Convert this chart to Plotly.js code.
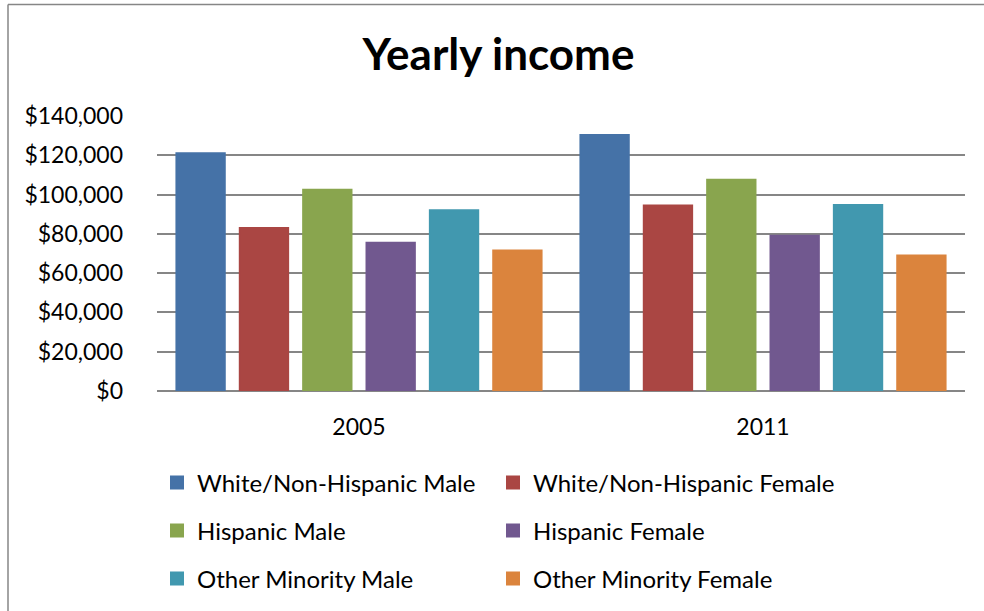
<!DOCTYPE html>
<html>
<head>
<meta charset="utf-8">
<script src="https://cdn.plot.ly/plotly-3.0.1.min.js"></script>
<style>
  html, body { margin: 0; padding: 0; background: #ffffff; }
  #chart { width: 984px; height: 611px; }
</style>
</head>
<body>
<div id="chart"></div>
<script>
// ---- data ----
const years = ['2005', '2011'];
const seriesNames = [
  'White/Non-Hispanic Male',
  'White/Non-Hispanic Female',
  'Hispanic Male',
  'Hispanic Female',
  'Other Minority Male',
  'Other Minority Female'
];
const whiteMale      = [121000, 130300];
const whiteFemale    = [83000, 94500];
const hispanicMale   = [102500, 107500];
const hispanicFemale = [75500, 79000];
const otherMale      = [92000, 94700];
const otherFemale    = [71500, 69000];
const yTickVals  = [0, 20000, 40000, 60000, 80000, 100000, 120000, 140000];
const yTickText  = ['$0', '$20,000', '$40,000', '$60,000', '$80,000', '$100,000', '$120,000', '$140,000'];

// ---- styling ----
const colors = ['#4572A7', '#AA4643', '#89A54E', '#71588F', '#4198AF', '#DB843D'];
const values = [whiteMale, whiteFemale, hispanicMale, hispanicFemale, otherMale, otherFemale];
const legendIds = ['legend', 'legend2', 'legend3', 'legend4', 'legend5', 'legend6'];
const FONT = 'Lato, "Open Sans", sans-serif';

const traces = values.map((v, i) => ({
  type: 'bar',
  name: seriesNames[i],
  x: years,
  y: v,
  legend: legendIds[i],
  marker: { color: colors[i], line: { color: colors[i], width: 2 } },
  hoverinfo: 'skip'
}));

function legendAt(col, row) {
  const rowY = [483, 531, 579][row];
  return {
    orientation: 'h',
    x: col === 0 ? 0.0 : 336 / 808,
    xanchor: 'left',
    y: (392 - rowY) / 276,
    yanchor: 'middle',
    font: { family: FONT, size: 24, color: '#000000' },
    bgcolor: 'rgba(0,0,0,0)'
  };
}

const layout = {
  width: 984,
  height: 611,
  margin: { l: 157, r: 19, t: 116, b: 219, pad: 0 },
  paper_bgcolor: '#ffffff',
  plot_bgcolor: '#ffffff',
  font: { family: FONT, color: '#000000' },
  title: {
    text: '<b>Yearly income</b>',
    font: { family: FONT, size: 44, color: '#000000' },
    x: 0.5066, xanchor: 'center',
    y: 1 - 55 / 611, yanchor: 'middle'
  },
  barmode: 'group',
  bargap: 0.059,
  bargroupgap: 0.237,
  xaxis: {
    type: 'category',
    showgrid: false,
    showline: false,
    zeroline: false,
    ticks: '',
    tickfont: { family: FONT, size: 23, color: '#000000' },
    ticklabelstandoff: 20,
    fixedrange: true
  },
  yaxis: {
    range: [0, 140000],
    tickvals: yTickVals,
    ticktext: yTickText,
    showgrid: true,
    gridcolor: '#868686',
    gridwidth: 2,
    zeroline: true,
    zerolinecolor: '#868686',
    zerolinewidth: 2,
    showline: false,
    ticks: '',
    tickfont: { family: FONT, size: 23, color: '#000000' },
    ticklabelstandoff: 33,
    fixedrange: true
  },
  showlegend: true,
  legend:  legendAt(0, 0),
  legend2: legendAt(1, 0),
  legend3: legendAt(0, 1),
  legend4: legendAt(1, 1),
  legend5: legendAt(0, 2),
  legend6: legendAt(1, 2),
  shapes: [
    { type: 'line', xref: 'paper', yref: 'paper',
      x0: (8 - 157) / 808, x1: (1000 - 157) / 808,
      y0: (392 - 4) / 276, y1: (392 - 4) / 276,
      line: { color: '#868686', width: 1.5 }, layer: 'below' },
    { type: 'line', xref: 'paper', yref: 'paper',
      x0: (8 - 157) / 808, x1: (8 - 157) / 808,
      y0: (392 - 4) / 276, y1: (392 - 620) / 276,
      line: { color: '#868686', width: 1.5 }, layer: 'below' }
  ],
  hovermode: false
};

Plotly.newPlot('chart', traces, layout, { displayModeBar: false, staticPlot: true });
</script>
</body>
</html>
